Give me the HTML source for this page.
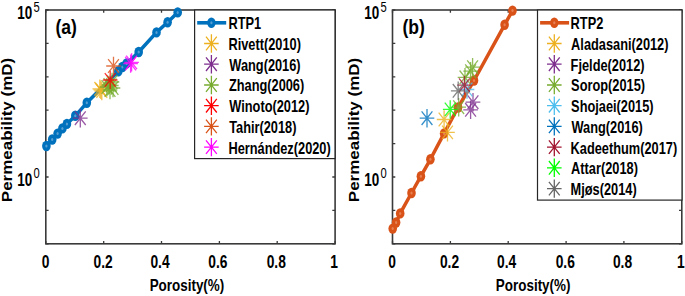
<!DOCTYPE html>
<html><head><meta charset="utf-8"><style>
html,body{margin:0;padding:0;background:#fff;width:685px;height:296px;overflow:hidden}
svg{display:block;font-family:"Liberation Sans",sans-serif}
</style></head><body>
<svg width="685" height="296" viewBox="0 0 685 296" font-family="Liberation Sans, sans-serif">
<rect width="685" height="296" fill="#fff"/>
<rect x="45.8" y="10" width="289.3" height="233.8" fill="none" stroke="#3a3a3a" stroke-width="1.6"/>
<path d="M45.8 243.8v-2.8M45.8 10v2.8" stroke="#3a3a3a" stroke-width="1.3"/>
<path d="M103.7 243.8v-2.8M103.7 10v2.8" stroke="#3a3a3a" stroke-width="1.3"/>
<path d="M161.5 243.8v-2.8M161.5 10v2.8" stroke="#3a3a3a" stroke-width="1.3"/>
<path d="M219.4 243.8v-2.8M219.4 10v2.8" stroke="#3a3a3a" stroke-width="1.3"/>
<path d="M277.2 243.8v-2.8M277.2 10v2.8" stroke="#3a3a3a" stroke-width="1.3"/>
<path d="M335.1 243.8v-2.8M335.1 10v2.8" stroke="#3a3a3a" stroke-width="1.3"/>
<path d="M45.8 243.8h2.8M335.1 243.8h-2.8" stroke="#3a3a3a" stroke-width="1.3"/>
<path d="M45.8 210.4h2.8M335.1 210.4h-2.8" stroke="#3a3a3a" stroke-width="1.3"/>
<path d="M45.8 177.0h2.8M335.1 177.0h-2.8" stroke="#3a3a3a" stroke-width="1.3"/>
<path d="M45.8 143.6h2.8M335.1 143.6h-2.8" stroke="#3a3a3a" stroke-width="1.3"/>
<path d="M45.8 110.2h2.8M335.1 110.2h-2.8" stroke="#3a3a3a" stroke-width="1.3"/>
<path d="M45.8 76.8h2.8M335.1 76.8h-2.8" stroke="#3a3a3a" stroke-width="1.3"/>
<path d="M45.8 43.4h2.8M335.1 43.4h-2.8" stroke="#3a3a3a" stroke-width="1.3"/>
<path d="M45.8 10.0h2.8M335.1 10.0h-2.8" stroke="#3a3a3a" stroke-width="1.3"/>
<rect x="392.5" y="10" width="289.3" height="233.8" fill="none" stroke="#3a3a3a" stroke-width="1.6"/>
<path d="M392.5 243.8v-2.8M392.5 10v2.8" stroke="#3a3a3a" stroke-width="1.3"/>
<path d="M450.4 243.8v-2.8M450.4 10v2.8" stroke="#3a3a3a" stroke-width="1.3"/>
<path d="M508.2 243.8v-2.8M508.2 10v2.8" stroke="#3a3a3a" stroke-width="1.3"/>
<path d="M566.1 243.8v-2.8M566.1 10v2.8" stroke="#3a3a3a" stroke-width="1.3"/>
<path d="M623.9 243.8v-2.8M623.9 10v2.8" stroke="#3a3a3a" stroke-width="1.3"/>
<path d="M681.8 243.8v-2.8M681.8 10v2.8" stroke="#3a3a3a" stroke-width="1.3"/>
<path d="M392.5 243.8h2.8M681.8 243.8h-2.8" stroke="#3a3a3a" stroke-width="1.3"/>
<path d="M392.5 210.4h2.8M681.8 210.4h-2.8" stroke="#3a3a3a" stroke-width="1.3"/>
<path d="M392.5 177.0h2.8M681.8 177.0h-2.8" stroke="#3a3a3a" stroke-width="1.3"/>
<path d="M392.5 143.6h2.8M681.8 143.6h-2.8" stroke="#3a3a3a" stroke-width="1.3"/>
<path d="M392.5 110.2h2.8M681.8 110.2h-2.8" stroke="#3a3a3a" stroke-width="1.3"/>
<path d="M392.5 76.8h2.8M681.8 76.8h-2.8" stroke="#3a3a3a" stroke-width="1.3"/>
<path d="M392.5 43.4h2.8M681.8 43.4h-2.8" stroke="#3a3a3a" stroke-width="1.3"/>
<path d="M392.5 10.0h2.8M681.8 10.0h-2.8" stroke="#3a3a3a" stroke-width="1.3"/>
<path d="M46.4 146.0 L52.2 139.5 L57.6 133.6 L62.4 128.4 L66.9 123.9 L75.3 115.8 L86.8 102.8 L118.3 71.2 L122.4 67.0 L126.6 63.4 L138.7 52.0 L156.5 32.4 L167.6 22.3 L177.7 12.4" stroke="#0072BD" stroke-width="3.5" fill="none" stroke-linejoin="round"/>
<ellipse cx="46.4" cy="146.0" rx="4.3" ry="5.2" fill="#0072BD"/><ellipse cx="46.4" cy="146.0" rx="1.1" ry="1.5" fill="#8dbde3" opacity="0.6"/>
<ellipse cx="52.2" cy="139.5" rx="4.3" ry="5.2" fill="#0072BD"/><ellipse cx="52.2" cy="139.5" rx="1.1" ry="1.5" fill="#8dbde3" opacity="0.6"/>
<ellipse cx="57.6" cy="133.6" rx="4.3" ry="5.2" fill="#0072BD"/><ellipse cx="57.6" cy="133.6" rx="1.1" ry="1.5" fill="#8dbde3" opacity="0.6"/>
<ellipse cx="62.4" cy="128.4" rx="4.3" ry="5.2" fill="#0072BD"/><ellipse cx="62.4" cy="128.4" rx="1.1" ry="1.5" fill="#8dbde3" opacity="0.6"/>
<ellipse cx="66.9" cy="123.9" rx="4.3" ry="5.2" fill="#0072BD"/><ellipse cx="66.9" cy="123.9" rx="1.1" ry="1.5" fill="#8dbde3" opacity="0.6"/>
<ellipse cx="75.3" cy="115.8" rx="4.3" ry="5.2" fill="#0072BD"/><ellipse cx="75.3" cy="115.8" rx="1.1" ry="1.5" fill="#8dbde3" opacity="0.6"/>
<ellipse cx="86.8" cy="102.8" rx="4.3" ry="5.2" fill="#0072BD"/><ellipse cx="86.8" cy="102.8" rx="1.1" ry="1.5" fill="#8dbde3" opacity="0.6"/>
<ellipse cx="118.3" cy="71.2" rx="4.3" ry="5.2" fill="#0072BD"/><ellipse cx="118.3" cy="71.2" rx="1.1" ry="1.5" fill="#8dbde3" opacity="0.6"/>
<ellipse cx="122.4" cy="67.0" rx="4.3" ry="5.2" fill="#0072BD"/><ellipse cx="122.4" cy="67.0" rx="1.1" ry="1.5" fill="#8dbde3" opacity="0.6"/>
<ellipse cx="126.6" cy="63.4" rx="4.3" ry="5.2" fill="#0072BD"/><ellipse cx="126.6" cy="63.4" rx="1.1" ry="1.5" fill="#8dbde3" opacity="0.6"/>
<ellipse cx="138.7" cy="52.0" rx="4.3" ry="5.2" fill="#0072BD"/><ellipse cx="138.7" cy="52.0" rx="1.1" ry="1.5" fill="#8dbde3" opacity="0.6"/>
<ellipse cx="156.5" cy="32.4" rx="4.3" ry="5.2" fill="#0072BD"/><ellipse cx="156.5" cy="32.4" rx="1.1" ry="1.5" fill="#8dbde3" opacity="0.6"/>
<ellipse cx="167.6" cy="22.3" rx="4.3" ry="5.2" fill="#0072BD"/><ellipse cx="167.6" cy="22.3" rx="1.1" ry="1.5" fill="#8dbde3" opacity="0.6"/>
<ellipse cx="177.7" cy="12.4" rx="4.3" ry="5.2" fill="#0072BD"/><ellipse cx="177.7" cy="12.4" rx="1.1" ry="1.5" fill="#8dbde3" opacity="0.6"/>
<path d="M99.8 79.6V98.0M92.5 88.8H107.1M94.4 82.0L105.2 95.6M94.4 95.6L105.2 82.0" stroke="#EDB120" stroke-width="1.3" fill="none" opacity="0.8"/>
<path d="M100.8 80.6V99.0M93.5 89.8H108.1M95.4 83.0L106.2 96.6M95.4 96.6L106.2 83.0" stroke="#EDB120" stroke-width="1.3" fill="none" opacity="0.8"/>
<path d="M101.8 81.8V100.2M94.5 91.0H109.1M96.4 84.2L107.2 97.8M96.4 97.8L107.2 84.2" stroke="#EDB120" stroke-width="1.3" fill="none" opacity="0.8"/>
<path d="M80.3 109.0V127.4M73.0 118.2H87.6M74.9 111.4L85.7 125.0M74.9 125.0L85.7 111.4" stroke="#7E2F8E" stroke-width="1.3" fill="none" opacity="0.8"/>
<path d="M107.0 77.8V96.2M99.7 87.0H114.3M101.6 80.2L112.4 93.8M101.6 93.8L112.4 80.2" stroke="#77AC30" stroke-width="1.3" fill="none" opacity="0.8"/>
<path d="M109.0 75.8V94.2M101.7 85.0H116.3M103.6 78.2L114.4 91.8M103.6 91.8L114.4 78.2" stroke="#77AC30" stroke-width="1.3" fill="none" opacity="0.8"/>
<path d="M111.3 76.3V94.7M104.0 85.5H118.6M105.9 78.7L116.7 92.3M105.9 92.3L116.7 78.7" stroke="#77AC30" stroke-width="1.3" fill="none" opacity="0.8"/>
<path d="M113.0 78.8V97.2M105.7 88.0H120.3M107.6 81.2L118.4 94.8M107.6 94.8L118.4 81.2" stroke="#77AC30" stroke-width="1.3" fill="none" opacity="0.8"/>
<path d="M110.0 80.8V99.2M102.7 90.0H117.3M104.6 83.2L115.4 96.8M104.6 96.8L115.4 83.2" stroke="#77AC30" stroke-width="1.3" fill="none" opacity="0.8"/>
<path d="M112.0 72.8V91.2M104.7 82.0H119.3M106.6 75.2L117.4 88.8M106.6 88.8L117.4 75.2" stroke="#77AC30" stroke-width="1.3" fill="none" opacity="0.8"/>
<path d="M110.2 70.8V89.2M102.9 80.0H117.5M104.8 73.2L115.6 86.8M104.8 86.8L115.6 73.2" stroke="#FF0000" stroke-width="1.3" fill="none" opacity="0.8"/>
<path d="M113.5 56.8V75.2M106.2 66.0H120.8M108.1 59.2L118.9 72.8M108.1 72.8L118.9 59.2" stroke="#D95319" stroke-width="1.3" fill="none" opacity="0.8"/>
<path d="M131.6 53.2V71.6M124.3 62.4H138.9M126.2 55.6L137.0 69.2M126.2 69.2L137.0 55.6" stroke="#FF00FF" stroke-width="1.3" fill="none" opacity="0.8"/>
<path d="M130.6 54.4V72.8M123.3 63.6H137.9M125.2 56.8L136.0 70.4M125.2 70.4L136.0 56.8" stroke="#FF00FF" stroke-width="1.3" fill="none" opacity="0.8"/>
<path d="M392.7 228.6 L396.1 222.5 L400.2 213.4 L411.5 193.0 L420.9 176.2 L430.4 159.3 L444.1 133.4 L458.0 107.5 L474.0 80.5 L504.6 24.8 L512.5 10.6" stroke="#D95319" stroke-width="3.5" fill="none" stroke-linejoin="round"/>
<ellipse cx="392.7" cy="228.6" rx="4.3" ry="5.2" fill="#D95319"/><ellipse cx="392.7" cy="228.6" rx="1.1" ry="1.5" fill="#f0a07c" opacity="0.6"/>
<ellipse cx="396.1" cy="222.5" rx="4.3" ry="5.2" fill="#D95319"/><ellipse cx="396.1" cy="222.5" rx="1.1" ry="1.5" fill="#f0a07c" opacity="0.6"/>
<ellipse cx="400.2" cy="213.4" rx="4.3" ry="5.2" fill="#D95319"/><ellipse cx="400.2" cy="213.4" rx="1.1" ry="1.5" fill="#f0a07c" opacity="0.6"/>
<ellipse cx="411.5" cy="193.0" rx="4.3" ry="5.2" fill="#D95319"/><ellipse cx="411.5" cy="193.0" rx="1.1" ry="1.5" fill="#f0a07c" opacity="0.6"/>
<ellipse cx="420.9" cy="176.2" rx="4.3" ry="5.2" fill="#D95319"/><ellipse cx="420.9" cy="176.2" rx="1.1" ry="1.5" fill="#f0a07c" opacity="0.6"/>
<ellipse cx="430.4" cy="159.3" rx="4.3" ry="5.2" fill="#D95319"/><ellipse cx="430.4" cy="159.3" rx="1.1" ry="1.5" fill="#f0a07c" opacity="0.6"/>
<ellipse cx="444.1" cy="133.4" rx="4.3" ry="5.2" fill="#D95319"/><ellipse cx="444.1" cy="133.4" rx="1.1" ry="1.5" fill="#f0a07c" opacity="0.6"/>
<ellipse cx="458.0" cy="107.5" rx="4.3" ry="5.2" fill="#D95319"/><ellipse cx="458.0" cy="107.5" rx="1.1" ry="1.5" fill="#f0a07c" opacity="0.6"/>
<ellipse cx="474.0" cy="80.5" rx="4.3" ry="5.2" fill="#D95319"/><ellipse cx="474.0" cy="80.5" rx="1.1" ry="1.5" fill="#f0a07c" opacity="0.6"/>
<ellipse cx="504.6" cy="24.8" rx="4.3" ry="5.2" fill="#D95319"/><ellipse cx="504.6" cy="24.8" rx="1.1" ry="1.5" fill="#f0a07c" opacity="0.6"/>
<ellipse cx="512.5" cy="10.6" rx="4.3" ry="5.2" fill="#D95319"/><ellipse cx="512.5" cy="10.6" rx="1.1" ry="1.5" fill="#f0a07c" opacity="0.6"/>
<path d="M444.1 110.3V128.7M436.8 119.5H451.4M438.7 112.7L449.5 126.3M438.7 126.3L449.5 112.7" stroke="#EDB120" stroke-width="1.3" fill="none" opacity="0.8"/>
<path d="M447.5 123.2V141.6M440.2 132.4H454.8M442.1 125.6L452.9 139.2M442.1 139.2L452.9 125.6" stroke="#EDB120" stroke-width="1.3" fill="none" opacity="0.8"/>
<path d="M473.0 93.0V111.4M465.7 102.2H480.3M467.6 95.4L478.4 109.0M467.6 109.0L478.4 95.4" stroke="#7E2F8E" stroke-width="1.3" fill="none" opacity="0.8"/>
<path d="M470.6 100.6V119.0M463.3 109.8H477.9M465.2 103.0L476.0 116.6M465.2 116.6L476.0 103.0" stroke="#7E2F8E" stroke-width="1.3" fill="none" opacity="0.8"/>
<path d="M458.7 98.0V116.4M451.4 107.2H466.0M453.3 100.4L464.1 114.0M453.3 114.0L464.1 100.4" stroke="#77AC30" stroke-width="1.3" fill="none" opacity="0.8"/>
<path d="M465.0 68.1V86.5M457.7 77.3H472.3M459.6 70.5L470.4 84.1M459.6 84.1L470.4 70.5" stroke="#77AC30" stroke-width="1.3" fill="none" opacity="0.8"/>
<path d="M470.6 62.0V80.4M463.3 71.2H477.9M465.2 64.4L476.0 78.0M465.2 78.0L476.0 64.4" stroke="#77AC30" stroke-width="1.3" fill="none" opacity="0.8"/>
<path d="M472.6 58.0V76.4M465.3 67.2H479.9M467.2 60.4L478.0 74.0M467.2 74.0L478.0 60.4" stroke="#77AC30" stroke-width="1.3" fill="none" opacity="0.8"/>
<path d="M467.0 80.3V98.7M459.7 89.5H474.3M461.6 82.7L472.4 96.3M461.6 96.3L472.4 82.7" stroke="#4DBEEE" stroke-width="1.3" fill="none" opacity="0.8"/>
<path d="M427.0 109.0V127.4M419.7 118.2H434.3M421.6 111.4L432.4 125.0M421.6 125.0L432.4 111.4" stroke="#0072BD" stroke-width="1.3" fill="none" opacity="0.8"/>
<path d="M464.4 76.0V94.4M457.1 85.2H471.7M459.0 78.4L469.8 92.0M459.0 92.0L469.8 78.4" stroke="#A2142F" stroke-width="1.3" fill="none" opacity="0.8"/>
<path d="M450.2 100.2V118.6M442.9 109.4H457.5M444.8 102.6L455.6 116.2M444.8 116.2L455.6 102.6" stroke="#00FF00" stroke-width="1.3" fill="none" opacity="0.8"/>
<path d="M458.2 81.6V100.0M450.9 90.8H465.5M452.8 84.0L463.6 97.6M452.8 97.6L463.6 84.0" stroke="#666666" stroke-width="1.3" fill="none" opacity="0.8"/>
<g fill="#000">
<text transform="translate(17.19,19.30) scale(0.7584,1)" font-size="17.8" font-weight="bold">10</text>
<text transform="translate(33.45,12.00) scale(0.7226,1)" font-size="15.5" font-weight="normal">5</text>
<text transform="translate(17.19,185.80) scale(0.7584,1)" font-size="17.8" font-weight="bold">10</text>
<text transform="translate(33.45,178.00) scale(0.7226,1)" font-size="15.5" font-weight="normal">0</text>
<text transform="translate(41.66,267.90) scale(0.7841,1)" font-size="17.6" font-weight="bold">0</text>
<text transform="translate(93.46,267.90) scale(0.7841,1)" font-size="17.6" font-weight="bold">0.2</text>
<text transform="translate(150.41,267.90) scale(0.7841,1)" font-size="17.6" font-weight="bold">0.4</text>
<text transform="translate(208.29,267.90) scale(0.7841,1)" font-size="17.6" font-weight="bold">0.6</text>
<text transform="translate(266.69,267.90) scale(0.7841,1)" font-size="17.6" font-weight="bold">0.8</text>
<text transform="translate(330.13,267.90) scale(0.7841,1)" font-size="17.6" font-weight="bold">1</text>
<text transform="translate(149.66,290.50) scale(0.8048,1)" font-size="16.7" font-weight="bold">Porosity(%)</text>
<g transform="translate(12.2,201.0) rotate(-90) scale(1,0.8706)"><text x="-1.19" y="0" font-size="17.0" font-weight="bold">Permeability (mD)</text></g>
<text transform="translate(55.52,34.20) scale(0.9000,1)" font-size="19.5" font-weight="bold">(a)</text>
</g>
<g fill="#000">
<text transform="translate(364.19,19.30) scale(0.7584,1)" font-size="17.8" font-weight="bold">10</text>
<text transform="translate(380.45,12.00) scale(0.7226,1)" font-size="15.5" font-weight="normal">5</text>
<text transform="translate(364.19,185.80) scale(0.7584,1)" font-size="17.8" font-weight="bold">10</text>
<text transform="translate(380.45,178.00) scale(0.7226,1)" font-size="15.5" font-weight="normal">0</text>
<text transform="translate(388.25,267.90) scale(0.7841,1)" font-size="17.6" font-weight="bold">0</text>
<text transform="translate(439.91,267.90) scale(0.7841,1)" font-size="17.6" font-weight="bold">0.2</text>
<text transform="translate(497.06,267.90) scale(0.7841,1)" font-size="17.6" font-weight="bold">0.4</text>
<text transform="translate(555.69,267.90) scale(0.7841,1)" font-size="17.6" font-weight="bold">0.6</text>
<text transform="translate(612.94,267.90) scale(0.7841,1)" font-size="17.6" font-weight="bold">0.8</text>
<text transform="translate(677.08,267.90) scale(0.7841,1)" font-size="17.6" font-weight="bold">1</text>
<text transform="translate(495.86,290.50) scale(0.8048,1)" font-size="16.7" font-weight="bold">Porosity(%)</text>
<g transform="translate(359.2,201.0) rotate(-90) scale(1,0.8706)"><text x="-1.19" y="0" font-size="17.0" font-weight="bold">Permeability (mD)</text></g>
<text transform="translate(402.52,34.20) scale(0.9000,1)" font-size="19.5" font-weight="bold">(b)</text>
</g>
<rect x="194.6" y="10" width="140.4" height="148.6" fill="#fff" stroke="#262626" stroke-width="1.2"/>
<path d="M197.2 22.8H226.2" stroke="#0072BD" stroke-width="3.6"/>
<ellipse cx="211.4" cy="22.8" rx="4.2" ry="5.2" fill="#0072BD"/><ellipse cx="211.4" cy="22.8" rx="1.1" ry="1.5" fill="#8dbde3" opacity="0.6"/>
<text transform="translate(228.40,29.20) scale(0.7758,1)" font-size="16.5" font-weight="bold">RTP1</text>
<path d="M211.4 34.3V52.7M204.1 43.5H218.7M206.0 36.7L216.8 50.3M206.0 50.3L216.8 36.7" stroke="#EDB120" stroke-width="1.3" fill="none" opacity="1.0"/>
<text transform="translate(228.40,49.92) scale(0.7758,1)" font-size="16.5" font-weight="bold">Rivett(2010)</text>
<path d="M211.4 55.0V73.4M204.1 64.2H218.7M206.0 57.4L216.8 71.0M206.0 71.0L216.8 57.4" stroke="#7E2F8E" stroke-width="1.3" fill="none" opacity="1.0"/>
<text transform="translate(229.30,70.64) scale(0.7758,1)" font-size="16.5" font-weight="bold">Wang(2016)</text>
<path d="M211.4 75.8V94.2M204.1 85.0H218.7M206.0 78.2L216.8 91.8M206.0 91.8L216.8 78.2" stroke="#77AC30" stroke-width="1.3" fill="none" opacity="1.0"/>
<text transform="translate(228.92,91.36) scale(0.7758,1)" font-size="16.5" font-weight="bold">Zhang(2006)</text>
<path d="M211.4 96.5V114.9M204.1 105.7H218.7M206.0 98.9L216.8 112.5M206.0 112.5L216.8 98.9" stroke="#FF0000" stroke-width="1.3" fill="none" opacity="1.0"/>
<text transform="translate(229.30,112.08) scale(0.7758,1)" font-size="16.5" font-weight="bold">Winoto(2012)</text>
<path d="M211.4 117.2V135.6M204.1 126.4H218.7M206.0 119.6L216.8 133.2M206.0 133.2L216.8 119.6" stroke="#D95319" stroke-width="1.3" fill="none" opacity="1.0"/>
<text transform="translate(229.17,132.80) scale(0.7758,1)" font-size="16.5" font-weight="bold">Tahir(2018)</text>
<path d="M211.4 137.9V156.3M204.1 147.1H218.7M206.0 140.3L216.8 153.9M206.0 153.9L216.8 140.3" stroke="#FF00FF" stroke-width="1.3" fill="none" opacity="1.0"/>
<text transform="translate(228.40,153.52) scale(0.7758,1)" font-size="16.5" font-weight="bold">Hernández(2020)</text>
<rect x="537.5" y="10" width="144.5" height="190.1" fill="#fff" stroke="#262626" stroke-width="1.2"/>
<path d="M540.1 22.8H569.1" stroke="#D95319" stroke-width="3.6"/>
<ellipse cx="554.3" cy="22.8" rx="4.2" ry="5.2" fill="#D95319"/><ellipse cx="554.3" cy="22.8" rx="1.1" ry="1.5" fill="#f0a07c" opacity="0.6"/>
<text transform="translate(570.60,29.20) scale(0.7758,1)" font-size="16.5" font-weight="bold">RTP2</text>
<path d="M554.3 34.3V52.7M547.0 43.5H561.6M548.9 36.7L559.7 50.3M548.9 50.3L559.7 36.7" stroke="#EDB120" stroke-width="1.3" fill="none" opacity="1.0"/>
<text transform="translate(571.12,49.92) scale(0.7758,1)" font-size="16.5" font-weight="bold">Aladasani(2012)</text>
<path d="M554.3 55.0V73.4M547.0 64.2H561.6M548.9 57.4L559.7 71.0M548.9 71.0L559.7 57.4" stroke="#7E2F8E" stroke-width="1.3" fill="none" opacity="1.0"/>
<text transform="translate(570.60,70.64) scale(0.7758,1)" font-size="16.5" font-weight="bold">Fjelde(2012)</text>
<path d="M554.3 75.8V94.2M547.0 85.0H561.6M548.9 78.2L559.7 91.8M548.9 91.8L559.7 78.2" stroke="#77AC30" stroke-width="1.3" fill="none" opacity="1.0"/>
<text transform="translate(571.12,91.36) scale(0.7758,1)" font-size="16.5" font-weight="bold">Sorop(2015)</text>
<path d="M554.3 96.5V114.9M547.0 105.7H561.6M548.9 98.9L559.7 112.5M548.9 112.5L559.7 98.9" stroke="#4DBEEE" stroke-width="1.3" fill="none" opacity="1.0"/>
<text transform="translate(571.12,112.08) scale(0.7758,1)" font-size="16.5" font-weight="bold">Shojaei(2015)</text>
<path d="M554.3 117.2V135.6M547.0 126.4H561.6M548.9 119.6L559.7 133.2M548.9 133.2L559.7 119.6" stroke="#0072BD" stroke-width="1.3" fill="none" opacity="1.0"/>
<text transform="translate(571.50,132.80) scale(0.7758,1)" font-size="16.5" font-weight="bold">Wang(2016)</text>
<path d="M554.3 137.9V156.3M547.0 147.1H561.6M548.9 140.3L559.7 153.9M548.9 153.9L559.7 140.3" stroke="#A2142F" stroke-width="1.3" fill="none" opacity="1.0"/>
<text transform="translate(570.60,153.52) scale(0.7758,1)" font-size="16.5" font-weight="bold">Kadeethum(2017)</text>
<path d="M554.3 158.6V177.0M547.0 167.8H561.6M548.9 161.0L559.7 174.6M548.9 174.6L559.7 161.0" stroke="#00FF00" stroke-width="1.3" fill="none" opacity="1.0"/>
<text transform="translate(571.12,174.24) scale(0.7758,1)" font-size="16.5" font-weight="bold">Attar(2018)</text>
<path d="M554.3 179.4V197.8M547.0 188.6H561.6M548.9 181.8L559.7 195.4M548.9 195.4L559.7 181.8" stroke="#666666" stroke-width="1.3" fill="none" opacity="1.0"/>
<text transform="translate(570.60,194.96) scale(0.7758,1)" font-size="16.5" font-weight="bold">Mjøs(2014)</text>
</svg>
</body></html>
